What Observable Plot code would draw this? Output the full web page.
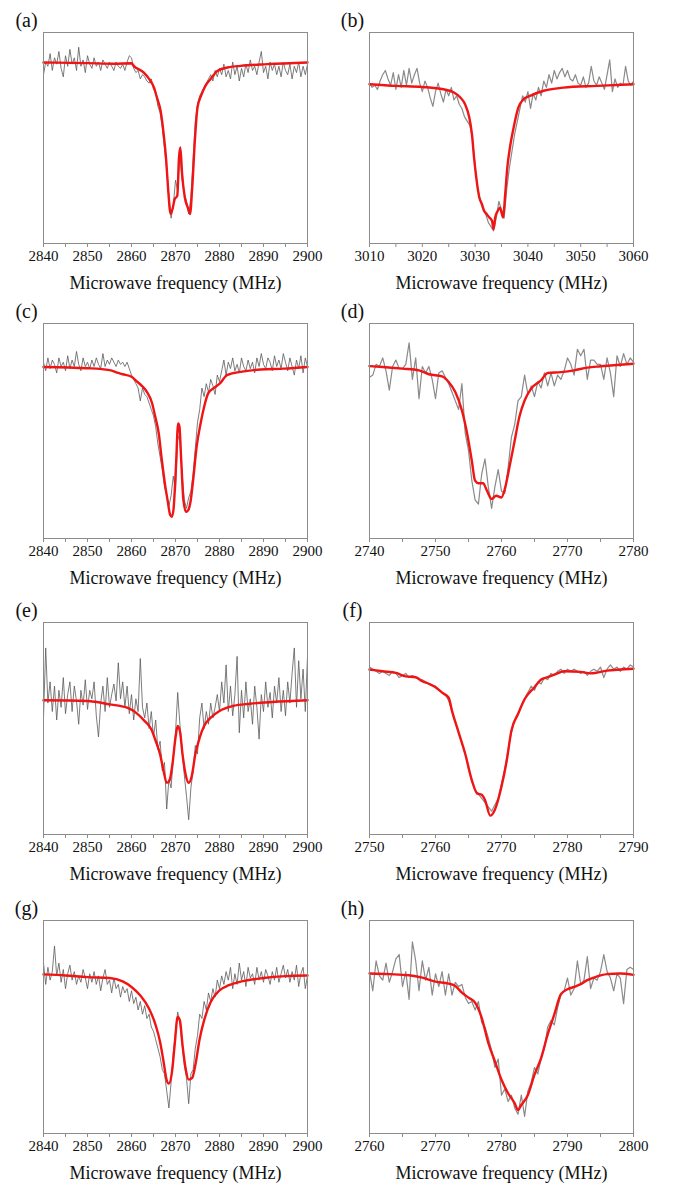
<!DOCTYPE html>
<html><head><meta charset="utf-8">
<script src="https://cdn.jsdelivr.net/npm/d3@7"></script>
<script src="https://cdn.jsdelivr.net/npm/@observablehq/plot@0.6"></script>
<style>
body{margin:0;background:#fff;}
#wrap{position:relative;width:673px;height:1186px;overflow:hidden;background:#fff;}
#wrap svg, #wrap svg text, #wrap svg g {font-family:"Liberation Serif","Times New Roman",serif !important;}
</style></head><body><div id="wrap"></div>
<script>
// Panel labels, x domains, axis title
const panelLabels = ["(a)","(b)","(c)","(d)","(e)","(f)","(g)","(h)"];
const xDomains = [[2840,2900],[3010,3060],[2840,2900],[2740,2780],[2840,2900],[2750,2790],[2840,2900],[2760,2800]];
const axisTitle = "Microwave frequency (MHz)";
// measured (gray) data: start frequency, step (MHz), values (relative, 0 = frame bottom, 100 = frame top)
const rawStart = [2840, 3010, 2840, 2740, 2840, 2750, 2840, 2760];
const rawStep = 0.5;
const grayA = [80,86,84,90,82,88,85,91,83,79,89,84,92,85,88,82,93,84,87,81,
 89,85,83,88,84,86,82,87,85,83,86,84,82,86,84,83,85,82,86,89,
 88,83,81,82,78,80,79,77,76,78,73,72,65,62,55,45,35,22,12,18,
 30,25,42,30,24,20,14,22,40,58,66,70,72,74,76,78,80,77,82,79,
 83,80,85,79,82,78,86,80,84,77,83,79,85,81,87,82,84,80,86,91,
 81,84,78,86,82,85,80,84,79,86,82,80,85,78,84,81,86,79,84,80,85];
const grayB = [76,74,75,73,77,80,82,78,75,81,73,80,74,82,75,83,76,80,83,76,
 72,77,74,69,65,72,76,71,67,73,70,74,68,70,66,64,60,58,56,50,
 36,26,20,16,14,10,8,6,12,20,16,12,26,36,44,52,58,64,70,67,
 72,64,71,68,74,70,77,74,80,76,82,78,81,83,79,82,78,77,80,76,
 75,79,74,76,84,77,75,79,76,73,80,87,72,78,74,76,75,84,77,75,77];
const grayC = [82,78,84,79,83,81,77,84,80,82,78,85,79,83,80,87,81,78,84,80,
 82,79,83,80,84,81,79,86,80,83,81,84,82,80,83,81,82,80,82,79,
 76,74,72,70,64,70,67,66,63,60,57,52,44,38,32,24,20,15,20,29,
 22,48,45,30,18,14,19,22,30,42,54,60,70,66,72,68,74,71,67,76,
 73,78,83,76,82,79,84,78,81,77,84,80,78,83,79,82,77,84,80,86,
 81,79,84,82,78,85,80,83,79,86,82,78,84,80,76,83,79,85,77,84,80];
const grayD = [75,76,81,80,84,78,69,80,83,79,79,81,91,74,84,65,80,77,80,74,
 65,77,78,75,72,68,64,60,72,49,41,27,18,16,30,37,24,14,24,32,
 22,21,33,47,53,64,66,76,67,71,66,73,70,77,71,77,71,76,74,78,
 84,81,76,88,85,88,74,83,83,81,81,74,84,77,66,85,80,86,81,84,82];
const grayE = [55,88,62,72,58,70,54,68,60,74,57,66,72,58,70,63,52,68,61,73,
 59,68,64,72,56,46,62,70,58,74,60,66,71,63,81,64,72,60,70,57,
 66,54,64,58,83,60,55,62,50,58,46,54,40,44,30,34,12,26,22,36,
 48,67,52,40,28,18,7,22,30,42,38,55,62,50,58,52,62,55,60,66,
 58,72,62,80,58,70,56,66,84,48,68,55,72,58,64,52,70,60,45,66,
 58,72,60,67,55,70,62,74,58,68,56,72,62,76,88,60,82,64,78,58,84];
const grayF = [79,78,77,76,77,76,75,77,76,74,75,76,74,75,74,73,73,72,71,70,
 70,68,67,66,63,58,53,48,43,38,31,25,21,19,17,15,13,11,14,17,
 24,31,40,48,54,57,61,64,67,70,68,72,71,74,73,76,75,77,78,76,
 78,77,78,77,76,77,75,77,78,77,79,74,78,80,78,79,77,79,78,80,79];
const grayG = [80,70,78,72,76,88,74,80,71,77,68,75,79,72,76,70,74,71,77,73,
 68,75,71,76,70,74,67,73,77,70,72,66,73,68,70,64,69,66,68,62,
 67,61,64,58,62,56,60,54,56,50,48,44,40,36,30,28,20,12,24,38,
 48,57,52,42,32,26,14,28,30,40,46,56,54,62,58,66,62,68,64,72,
 68,74,70,76,72,78,68,75,70,80,72,76,69,78,73,75,70,78,72,76,
 71,77,74,70,76,72,78,71,75,79,73,77,71,76,72,79,69,75,78,68,74];
const grayH = [76,67,81,74,72,80,71,76,82,84,69,76,63,90,81,67,81,72,78,65,
 75,69,76,65,75,65,71,69,70,64,61,62,58,62,52,50,45,39,31,35,
 18,21,15,18,12,9,18,8,20,24,31,28,35,40,50,53,51,59,65,67,
 73,65,68,81,70,72,83,68,73,72,76,84,76,73,67,75,73,61,77,78,77];
// fitted (red) curves
const fitAx = [2840,2850,2856,2860,2860.5,2862.8,2864,2865.1,2865.8,2866.6,2867.3,2867.9,2868.3,2868.9,2869.4,2869.8,2870.4,2870.8,2871.1,2871.5,2872.1,2872.8,2873.3,2873.8,2874.4,2875,2875.8,2876.8,2878,2879.5,2881.8,2884.8,2890.9,2900];
const fitAy = [85.8,85.5,85.2,85.4,84.2,81,78,74,69,63,52,39,26.5,14,17,21,22.6,41,45.5,33,22,17,14,26.5,48.7,64.5,70,74.7,78,81.8,83.4,84.2,85,85.8];
const fitBx = [3010,3015,3020,3024,3026,3027.2,3028.1,3028.9,3029.4,3029.8,3030.3,3030.8,3031.3,3031.7,3032.2,3032.7,3033.2,3033.5,3033.8,3034.3,3034.7,3035.3,3035.7,3036.1,3036.6,3037.3,3038.2,3039.2,3040.4,3043,3046.7,3053.1,3060];
const fitBy = [75.5,74.7,74.2,73.1,71.6,69.2,66,59.7,51.8,40.8,29.7,21.8,18.6,15.5,13.9,12.3,10.7,6.8,12.3,15.5,17,12.3,23.4,36,45.5,55,64.5,68.4,70,72.4,73.9,74.7,75.5];
const fitCx = [2840,2850,2855,2857,2858,2860,2861.3,2862.4,2863.5,2864.7,2865.4,2866.2,2866.9,2867.7,2868.2,2868.8,2869.2,2869.6,2870.1,2870.6,2870.9,2871.3,2871.8,2872.4,2872.9,2873.4,2874,2874.8,2875.7,2876.5,2877.4,2878.6,2880.1,2881.7,2884.8,2889.4,2894.7,2900];
const fitCy = [79.8,79.2,78.3,77,76.4,75.2,72.9,70.9,68.2,62.8,56.6,48.8,36.4,24,17.8,10.9,10.1,14.7,33.3,53.5,52,36.4,17.8,12.4,13.2,17,27,42.6,53.5,61.2,67.4,69.8,72.1,76,77.5,78.6,79,79.8];
const fitDx = [2740,2742,2745,2747.5,2749,2751,2752,2753,2754,2754.8,2755.5,2756,2756.5,2757.2,2757.8,2758.5,2759.2,2760,2760.5,2761.2,2762,2762.7,2763.5,2764.5,2766,2767,2769,2771,2773,2775,2777,2780];
const fitDy = [80.2,79.8,79,78.2,76.4,75.4,72.8,68.1,59.6,48.7,36.2,26.9,25.7,25.7,22.2,18.4,19.9,19.1,23,33.1,45.6,56.5,64.2,69.7,73.6,77,77.4,78.2,79.5,80.1,80.6,81.3];
const fitEx = [2840,2850,2855,2859,2861,2863,2864.5,2865.5,2866.5,2867.3,2868,2868.6,2869.3,2870,2870.5,2871,2871.6,2872.3,2873,2873.7,2874.5,2875.5,2876.5,2878,2880,2883,2887,2892,2900];
const fitEy = [63.3,63,61.4,59.8,57.5,53.5,49.6,44.1,37.8,29.9,24.4,25.2,33.1,45.7,51.2,48.8,37.8,28.3,24.4,27.6,37.8,45.7,51.2,55.1,58.3,60.6,61.7,62.5,63.3];
const fitFx = [2750,2752,2754,2755.5,2757,2758,2759,2760,2761,2762,2762.5,2763.5,2764.5,2765.5,2766.3,2767,2767.5,2768.3,2769,2770,2770.8,2771.5,2772.5,2773.5,2775,2776,2777,2778,2779.5,2782,2783.5,2786,2788,2790];
const fitFy = [77.8,77,76.2,74.6,74.2,72.3,71.1,69.5,66.9,64.5,58.3,48.2,38.1,25.7,19.4,18.7,16.3,8.9,11.7,22.6,35,49,56.8,63.8,69.5,73.1,74.2,75.4,77,76.7,76,77.3,77.8,78.2];
const fitGx = [2840,2845,2850,2855,2858,2860,2862,2864,2865.5,2866.5,2867.3,2868,2868.5,2869.2,2869.8,2870.5,2871,2871.6,2872.3,2873,2873.8,2874.5,2875.5,2876.5,2878,2880,2882,2885,2890,2895,2900];
const fitGy = [74.7,74.2,73.4,73,71.4,68.8,64.8,58.6,50.8,43,33.6,25,23.4,28.9,41.4,54.7,53.1,41.4,30.5,25.3,26.1,32,44.5,53.1,61.7,67.2,69.5,71.4,73,73.9,74.2];
const fitHx = [2760,2763,2766,2768,2770,2772,2773,2774,2775,2776,2777,2778,2779,2780,2781,2782,2782.5,2783,2784,2785,2786,2787,2788,2789,2790,2791,2792,2793,2794,2796,2798,2800];
const fitHy = [75.1,74.8,74.3,73.2,71.3,70.4,69.3,66.1,63.8,61.4,54.3,42.5,33.9,25.2,18.9,14.2,11,13.4,18.1,27.6,35.4,46.5,55.9,65.4,67.7,68.8,70.1,72,73.2,74.8,75.1,74.5];

const grays = [grayA, grayB, grayC, grayD, grayE, grayF, grayG, grayH];
const fitsX = [fitAx, fitBx, fitCx, fitDx, fitEx, fitFx, fitGx, fitHx];
const fitsY = [fitAy, fitBy, fitCy, fitDy, fitEy, fitFy, fitGy, fitHy];

// layout
const rowTop = [0, 291, 590, 888];
const rowFrameH = [211, 215, 212, 213];
const FONT = "Liberation Serif, Times New Roman, serif";
const wrap = document.getElementById("wrap");

panelLabels.forEach((lab, i) => {
  const col = i % 2, row = Math.floor(i / 2);
  const raw = grays[i].map((v, j) => ({f: rawStart[i] + j * rawStep, v}));
  const fit = fitsX[i].map((f, j) => ({f, v: fitsY[i][j]}));
  const dom = xDomains[i];
  const dense = col === 0;
  const el = Plot.plot({
    width: col === 0 ? 336 : 343,
    height: 32 + rowFrameH[row] + 52,
    marginLeft: col === 0 ? 43 : 39,
    marginRight: col === 0 ? 29 : 40,
    marginTop: 32,
    marginBottom: 52,
    style: {fontFamily: FONT, background: "transparent", color: "#111", overflow: "visible"},
    x: {domain: dom},
    y: {domain: [0, 100], axis: null},
    marks: [
      Plot.line(raw, {x: "f", y: "v", stroke: dense ? "#5a5a5a" : "#8a8a8a", strokeWidth: dense ? 0.8 : 1.2}),
      Plot.line(fit, {x: "f", y: "v", stroke: "#f01414", strokeWidth: 2.4, curve: "monotone-x"}),
      Plot.frame({stroke: "#8c8c8c", strokeWidth: 1}),
      Plot.axisX({ticks: d3.range(dom[0], dom[1] + 1, 5), tickSize: 4, tickPadding: 3, stroke: "#8c8c8c",
        tickFormat: d => d % 10 === 0 ? String(d) : "", label: null, fontSize: 15, fontFamily: FONT, fill: "#111"}),
      Plot.text([axisTitle], {frameAnchor: "bottom", dy: 40, lineAnchor: "middle", fontSize: 18, fontFamily: FONT, fill: "#111"}),
      Plot.text([lab], {frameAnchor: "top-left", dx: -17, dy: -12, textAnchor: "middle", lineAnchor: "middle", fontSize: 20, fontFamily: FONT, fill: "#111"})
    ]
  });
  el.style.position = "absolute";
  el.style.left = (col === 0 ? 0 : 330) + "px";
  el.style.top = rowTop[row] + "px";
  wrap.appendChild(el);
});
</script></body></html>
